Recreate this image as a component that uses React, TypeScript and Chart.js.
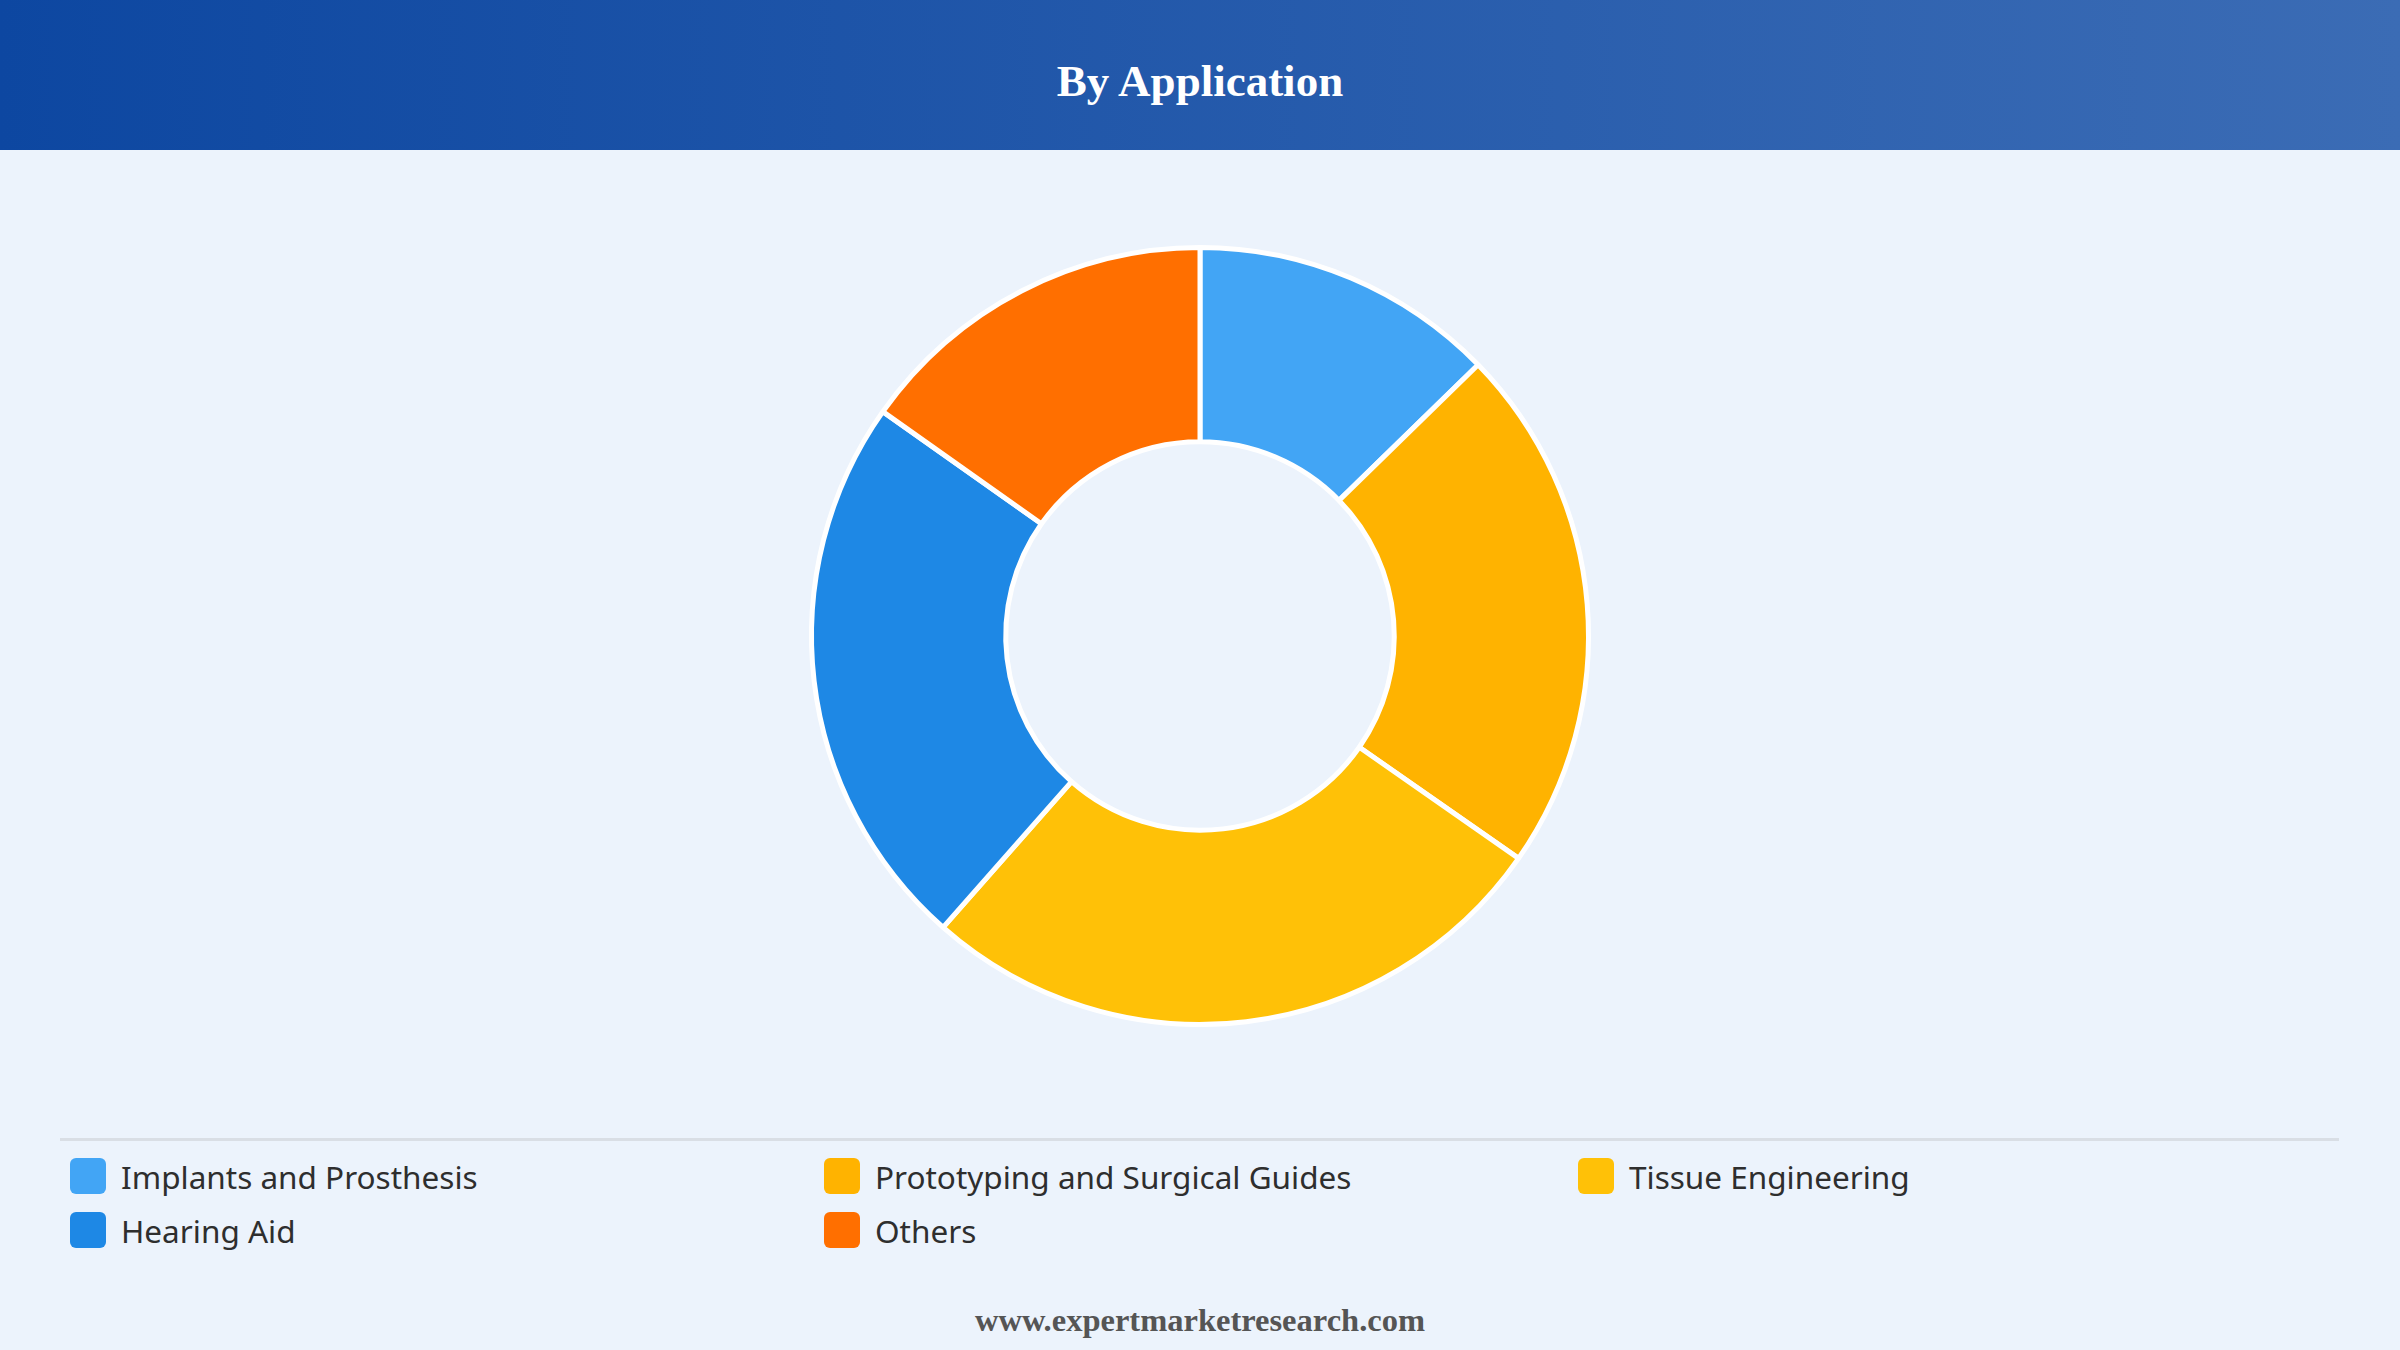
import { useEffect, useRef } from "react";
import Chart from "chart.js/auto";

const categories = [
  "Implants and Prosthesis",
  "Prototyping and Surgical Guides",
  "Tissue Engineering",
  "Hearing Aid",
  "Others",
];
const shares = [12.7, 22.0, 26.8, 23.3, 15.2];
const colors = ["#42a5f5", "#ffb300", "#ffc107", "#1e88e5", "#ff6f00"];

function Doughnut() {
  const chartRef = useRef<HTMLCanvasElement>(null);

  useEffect(() => {
    if (!chartRef.current) return;
    const ctx = chartRef.current.getContext("2d");
    if (!ctx) return;
    const chart = new Chart(ctx, {
      type: "doughnut",
      data: {
        labels: categories,
        datasets: [
          {
            data: shares,
            backgroundColor: colors,
            borderColor: "#ffffff",
            borderWidth: 5,
          },
        ],
      },
      options: {
        animation: false,
        responsive: true,
        maintainAspectRatio: false,
        cutout: "50%",
        layout: { padding: 0 },
        plugins: {
          legend: { display: false },
          tooltip: { enabled: false },
        },
      },
    });
    return () => {
      chart.destroy();
    };
  }, []);

  return (
    <div style={{ position: "absolute", left: 0, top: 245, width: 2400, height: 782 }}>
      <canvas ref={chartRef} />
    </div>
  );
}

export default function App() {
  return (
    <div
      style={{
        position: "absolute",
        left: 0,
        top: 0,
        width: 2400,
        height: 1350,
        background: "#ecf3fc",
        overflow: "hidden",
      }}
    >
      <div
        style={{
          position: "absolute",
          left: 0,
          top: 0,
          width: 2400,
          height: 150,
          background: "linear-gradient(90deg, #0d47a1, #3b6cb5)",
          color: "#fff",
          fontFamily: "'Liberation Serif', 'Times New Roman', serif",
          fontWeight: 700,
          fontSize: 45,
          lineHeight: "162px",
          textAlign: "center",
        }}
      >
        By Application
      </div>

      <Doughnut />

      <div
        style={{
          position: "absolute",
          left: 60,
          top: 1138,
          width: 2279,
          height: 0,
          borderTop: "3px solid #d9dee5",
        }}
      />

      <div
        style={{
          position: "absolute",
          left: 70,
          top: 1149,
          width: 2262,
          display: "grid",
          gridTemplateColumns: "repeat(3, 754px)",
          rowGap: 0,
          fontFamily: "'Noto Sans', sans-serif",
          fontSize: 31.5,
          color: "#2e2e2e",
        }}
      >
        {categories.map((c, i) => (
          <div key={c} style={{ display: "flex", alignItems: "center", height: 54 }}>
            <span
              style={{
                width: 36,
                height: 36,
                borderRadius: 6,
                background: colors[i],
                marginRight: 15,
                flex: "none",
              }}
            />
            <span>{c}</span>
          </div>
        ))}
      </div>

      <div
        style={{
          position: "absolute",
          left: 0,
          top: 1300,
          width: 2400,
          textAlign: "center",
          fontFamily: "'Liberation Serif', 'Times New Roman', serif",
          fontWeight: 700,
          fontSize: 32.5,
          lineHeight: "40px",
          color: "#555",
        }}
      >
        www.expertmarketresearch.com
      </div>
    </div>
  );
}
